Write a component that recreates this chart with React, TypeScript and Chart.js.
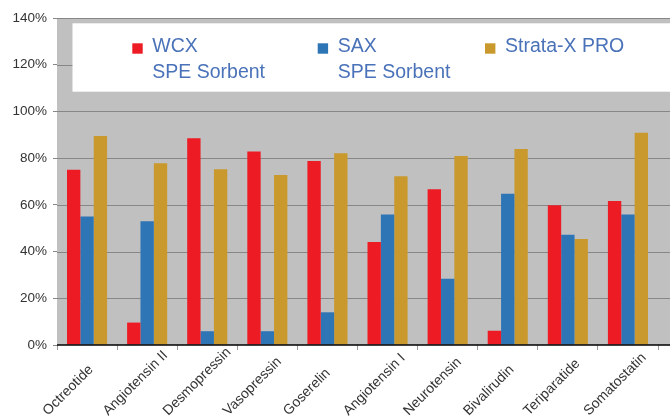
import React, { useEffect, useRef } from 'react';
import { Chart, registerables } from 'chart.js';

Chart.register(...registerables);

const categories = [
  'Octreotide',
  'Angiotensin II',
  'Desmopressin',
  'Vasopressin',
  'Goserelin',
  'Angiotensin I',
  'Neurotensin',
  'Bivalirudin',
  'Teriparatide',
  'Somatostatin',
];
const wcxValues = [75, 9.6, 88.5, 82.8, 78.8, 44.1, 66.7, 6.1, 59.8, 61.7];
const saxValues = [55, 53, 5.9, 5.9, 14, 55.9, 28.4, 64.8, 47.2, 55.9];
const strataValues = [89.5, 77.8, 75.2, 72.8, 82.1, 72.2, 80.9, 83.9, 45.4, 90.9];
const seriesLabels = [['WCX', 'SPE Sorbent'], ['SAX', 'SPE Sorbent'], ['Strata-X PRO']];
const seriesColors = ['#ed1c24', '#2e75b6', '#c9992d'];
const yTickValues = [0, 20, 40, 60, 80, 100, 120, 140];

const FONT = '"Liberation Sans", Arial, Helvetica, sans-serif';

const backdrop = {
  id: 'backdrop',
  beforeDraw(chart: any) {
    const { ctx, chartArea: a, width } = chart;
    ctx.save();
    ctx.fillStyle = '#c0c0c0';
    ctx.fillRect(a.left, a.top, width - a.left, a.bottom - a.top);
    ctx.restore();
  },
  beforeDatasetsDraw(chart: any) {
    const { ctx, chartArea: a, width } = chart;
    const y = chart.scales.y;
    ctx.save();
    ctx.strokeStyle = '#878787';
    ctx.lineWidth = 1.2;
    y.ticks.forEach((t: any) => {
      if (t.value === 0) return;
      const py = Math.round(y.getPixelForValue(t.value)) + 0.5;
      ctx.beginPath();
      ctx.moveTo(a.left, py);
      ctx.lineTo(width, py);
      ctx.stroke();
    });
    // legend box
    const boxL = a.left + 15.5;
    const boxT = a.top + 5.3;
    const boxB = a.top + 73.7;
    ctx.fillStyle = '#ffffff';
    ctx.fillRect(boxL, boxT, width - boxL, boxB - boxT);
    const itemX = [132.3, 317.7, 485];
    ctx.font = '19.5px ' + FONT;
    ctx.textBaseline = 'alphabetic';
    ctx.textAlign = 'left';
    seriesLabels.forEach((lines, i) => {
      ctx.fillStyle = seriesColors[i];
      ctx.fillRect(itemX[i], a.top + 25.3, 10.4, 10.4);
      ctx.fillStyle = '#4a72b9';
      lines.forEach((ln, j) => {
        ctx.fillText(ln, itemX[i] + 20, a.top + 34.3 + j * 25.4);
      });
    });
    ctx.restore();
  },
  afterDatasetsDraw(chart: any) {
    const { ctx, chartArea: a, width } = chart;
    ctx.save();
    ctx.strokeStyle = '#000000';
    ctx.lineWidth = 1.6;
    ctx.beginPath();
    ctx.moveTo(a.left, a.bottom);
    ctx.lineTo(width, a.bottom);
    ctx.stroke();
    ctx.restore();
  },
  afterDraw(chart: any) {
    const { ctx, chartArea: a } = chart;
    const x = chart.scales.x;
    ctx.save();
    ctx.font = '14px ' + FONT;
    ctx.fillStyle = '#333333';
    ctx.textAlign = 'left';
    ctx.textBaseline = 'alphabetic';
    categories.forEach((c, i) => {
      const px = x.getPixelForTick(i);
      ctx.save();
      ctx.translate(px - 39, a.bottom + 71);
      ctx.rotate(-Math.PI / 4);
      ctx.fillText(c, 0, 0);
      ctx.restore();
    });
    ctx.restore();
  },
};

export default function App() {
  const ref = useRef<HTMLCanvasElement | null>(null);
  useEffect(() => {
    if (!ref.current) return;
    const chart = new Chart(ref.current, {
      type: 'bar',
      data: {
        labels: categories,
        datasets: [wcxValues, saxValues, strataValues].map((vals, i) => ({
          label: seriesLabels[i].join(' '),
          data: vals,
          backgroundColor: seriesColors[i],
          borderWidth: 0,
          categoryPercentage: 0.667,
          barPercentage: 1,
        })),
      },
      options: {
        responsive: false,
        animation: false,
        layout: { padding: { left: 0, right: 12, top: 18, bottom: 0 } },
        plugins: { legend: { display: false }, tooltip: { enabled: false } },
        scales: {
          x: {
            offset: true,
            grid: { offset: true, drawOnChartArea: false, drawTicks: true, tickLength: 5, color: '#9a9a9a' },
            border: { display: false },
            ticks: { display: false, autoSkip: false },
            afterFit(scale: any) {
              scale.height = 75;
            },
          },
          y: {
            min: 0,
            max: 140,
            afterBuildTicks(scale: any) {
              scale.ticks = yTickValues.map((v) => ({ value: v }));
            },
            grid: { drawOnChartArea: false, drawTicks: true, tickLength: 4, color: '#878787' },
            border: { display: false },
            ticks: {
              padding: 6,
              color: '#333333',
              font: { family: FONT, size: 13.5 },
              callback: (v: any) => v + '%',
            },
            afterFit(scale: any) {
              scale.width = 57;
            },
          },
        },
      },
      plugins: [backdrop],
    });
    return () => chart.destroy();
  }, []);
  return (
    <div style={{ position: 'fixed', left: 0, top: 0, width: 670, height: 420, overflow: 'hidden', background: '#fff' }}>
      <canvas ref={ref} width={670} height={420} />
    </div>
  );
}
